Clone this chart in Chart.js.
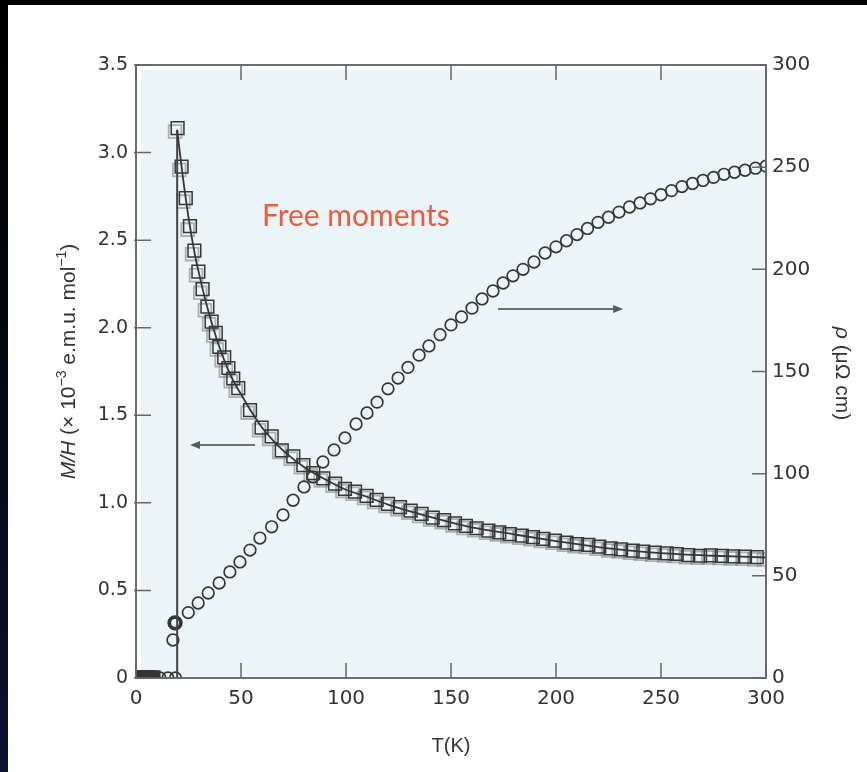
<!DOCTYPE html>
<html>
<head>
<meta charset="utf-8">
<script src="https://cdn.jsdelivr.net/npm/chart.js@4.4.1/dist/chart.umd.min.js"></script>
<style>
  html, body { margin: 0; padding: 0; width: 867px; height: 772px; overflow: hidden;
    background: linear-gradient(180deg, #000 0%, #03060f 40%, #0b1230 100%); }
  #panel { position: absolute; left: 8px; top: 5px; width: 859px; height: 767px; background: #fff; }
  canvas { display: block; }
</style>
</head>
<body>
<div id="panel"><canvas id="c" width="859" height="767"></canvas></div>
<script>
// Axis ticks
const T_TICKS = [0, 50, 100, 150, 200, 250, 300];
const MH_TICKS = [0, 0.5, 1, 1.5, 2, 2.5, 3, 3.5];
const MH_LABELS = ['0', '0.5', '1.0', '1.5', '2.0', '2.5', '3.0', '3.5'];
const RHO_TICKS = [0, 50, 100, 150, 200, 250, 300];

// Magnetic susceptibility M/H (x10^-3 e.m.u. mol^-1) vs T (K)
const susT = [0.5, 2, 3.5, 5, 6.5, 8,
  19.8, 21.7, 23.7, 25.7, 27.8, 29.7, 31.7, 34.0, 36.0, 38.0, 39.7, 42.0, 44.0, 46.3, 48.7,
  54.3, 59.8, 64.6, 69.4, 74.9, 79.7, 84.4, 89.2, 94.8, 99.5, 104.3, 109.8, 114.6, 120.0,
  125.7, 130.8, 136.0, 141.3, 146.7, 151.9, 157.1, 162.2, 167.8, 173.0, 178.0, 183.7, 189.0,
  194.0, 199.5, 205.0, 210.0, 215.4, 220.6, 226.0, 231.0, 236.5, 241.6, 247.0, 252.7, 257.5,
  263.0, 268.6, 273.7, 279.0, 284.4, 290.0, 295.6];
const susMH = [0, 0, 0, 0, 0, 0,
  3.14, 2.92, 2.74, 2.58, 2.44, 2.32, 2.22, 2.12, 2.035, 1.97, 1.89, 1.83, 1.77, 1.71, 1.655,
  1.53, 1.43, 1.38, 1.30, 1.265, 1.215, 1.17, 1.14, 1.11, 1.08, 1.064, 1.04, 1.017, 0.994,
  0.975, 0.955, 0.937, 0.916, 0.902, 0.883, 0.868, 0.855, 0.841, 0.832, 0.822, 0.813, 0.804,
  0.794, 0.784, 0.773, 0.765, 0.760, 0.750, 0.740, 0.735, 0.727, 0.721, 0.716, 0.712, 0.708,
  0.702, 0.698, 0.700, 0.697, 0.695, 0.693, 0.690];

// Second susceptibility run (lighter squares)
const sus2T = [18.6, 20.6, 22.6, 24.6, 26.7, 28.6, 30.6, 32.8, 34.8, 36.8, 38.5, 40.8, 42.8,
  45.1, 47.5, 53.1, 58.6, 63.4, 68.2, 73.7, 78.5, 83.2, 88.0, 93.6, 98.3, 103.1, 108.6, 113.4,
  118.8, 124.5, 129.6, 134.8, 140.1, 145.5, 150.7, 155.9, 161.0, 166.6, 171.8, 176.8, 182.5,
  187.8, 192.8, 198.3, 203.8, 208.8, 214.2, 219.4, 224.8, 229.8, 235.3, 240.4, 245.8, 251.5,
  256.3, 261.8, 267.4, 272.5, 277.8, 283.2, 288.8, 294.4, 299.0];
const sus2MH = [3.12, 2.90, 2.72, 2.56, 2.42, 2.30, 2.20, 2.10, 2.02, 1.955, 1.875, 1.815, 1.755,
  1.695, 1.64, 1.515, 1.415, 1.365, 1.29, 1.252, 1.203, 1.158, 1.128, 1.098, 1.068, 1.052, 1.028,
  1.005, 0.982, 0.963, 0.943, 0.925, 0.904, 0.890, 0.871, 0.856, 0.843, 0.829, 0.820, 0.810,
  0.801, 0.792, 0.782, 0.772, 0.761, 0.753, 0.748, 0.738, 0.728, 0.723, 0.715, 0.709, 0.704,
  0.700, 0.696, 0.690, 0.686, 0.688, 0.685, 0.683, 0.681, 0.678, 0.676];

// Curie-Weiss fit curve and the drop at the transition
const fitT = [19.6, 22, 25, 28, 30, 33, 36, 40, 45, 50, 55, 60, 65, 70, 80, 90, 100, 110, 120,
  140, 160, 180, 200, 225, 250, 275, 300];
const fitMH = [3.13, 2.89, 2.63, 2.42, 2.31, 2.16, 2.03, 1.88, 1.73, 1.62, 1.52, 1.43, 1.36, 1.30,
  1.205, 1.135, 1.075, 1.035, 0.99, 0.92, 0.86, 0.82, 0.782, 0.74, 0.713, 0.698, 0.688];
const onsetT = [19.6, 19.6];
const onsetMH = [0, 3.13];

// Resistivity rho (micro-ohm cm) vs T (K)
const rhoT = [0, 0.7, 1.4, 2.1, 2.8, 3.5, 4.2, 4.9, 5.6, 6.3, 7.0, 7.7, 11.4, 15.2, 18.8,
  17.6, 18.6,
  24.9, 29.6, 34.4, 39.6, 44.7, 49.5, 54.3, 59.0, 64.6, 70.0, 74.8, 80.0, 84.3, 89.0, 94.3,
  99.5, 104.8, 110.0, 114.8, 120.0, 124.8, 129.5, 134.8, 139.5, 144.8, 150.0, 155.0, 160.0,
  164.8, 170.0, 174.8, 179.5, 184.3, 189.5, 194.8, 200, 205, 210, 215, 220, 225, 230, 235,
  240, 245, 250, 255, 260, 265, 270, 275, 280, 285, 290, 295, 300];
const rhoVal = [0, 0, 0, 0, 0, 0, 0, 0, 0, 0, 0, 0, 0, 0, 0,
  18.6, 27,
  32, 36.7, 41.6, 46.5, 51.9, 56.8, 62.6, 68.5, 74, 79.8, 87, 93.5, 98.4, 105.7, 111.6,
  117.5, 124.3, 129.7, 135, 141.5, 146.8, 152, 158, 162.5, 168, 172.8, 176.7, 181,
  185.5, 189.4, 193.3, 196.8, 200, 203.6, 208, 211, 214, 217, 220, 223, 225.5, 228, 230.5,
  232.5, 234.5, 236.5, 238.5, 240.5, 242, 243.5, 245, 246.5, 247.5, 248.5, 249.5, 250.5];

const pts = (xs, ys) => xs.map((x, i) => ({ x, y: ys[i] }));

// Annotation placement, in data units
const NOTE = { text: 'Free moments', x: 60, y: 2.58 };
const ARROW_LEFT = { x0: 56.7, x1: 25.7, y: 1.33, axis: 'y' };
const ARROW_RIGHT = { x0: 172.4, x1: 232, y: 180.6, axis: 'y2' };

const INK = '#363636';
const FRAME = '#5e5e5e';

function drawArrow(ctx, xs, ys, a) {
  const px0 = xs.getPixelForValue(a.x0), px1 = xs.getPixelForValue(a.x1);
  const py = ys.getPixelForValue(a.y);
  const dir = Math.sign(px1 - px0);
  ctx.save();
  ctx.strokeStyle = '#6f6f6f';
  ctx.fillStyle = '#5a5a5a';
  ctx.lineWidth = 2;
  ctx.beginPath();
  ctx.moveTo(px0, py);
  ctx.lineTo(px1 - dir * 6, py);
  ctx.stroke();
  ctx.beginPath();
  ctx.moveTo(px1, py);
  ctx.lineTo(px1 - dir * 10, py - 4);
  ctx.lineTo(px1 - dir * 10, py + 4);
  ctx.closePath();
  ctx.fill();
  ctx.restore();
}

// Draw a list of text runs centred on the origin; runs may be italic or superscript
function drawRuns(ctx, runs, size, family) {
  const fontFor = r => `${r.italic ? 'italic ' : ''}${r.sup ? Math.round(size * 0.66) : size}px ${family}`;
  let total = 0;
  runs.forEach(r => { ctx.font = fontFor(r); r.w = ctx.measureText(r.t).width; total += r.w; });
  let x = -total / 2;
  const base = size * 0.36;
  ctx.textBaseline = 'alphabetic';
  ctx.textAlign = 'left';
  runs.forEach(r => {
    ctx.font = fontFor(r);
    ctx.fillText(r.t, x, r.sup ? base - size * 0.42 : base);
    x += r.w;
  });
}

const decor = {
  id: 'decor',
  beforeDraw(chart) {
    const { ctx, chartArea: a } = chart;
    ctx.save();
    ctx.fillStyle = '#ebf4f6';
    ctx.fillRect(a.left + 5, a.top + 5, a.right - a.left - 5, a.bottom - a.top - 5);
    ctx.restore();
  },
  afterDatasetsDraw(chart) {
    const { ctx, chartArea: a, scales } = chart;
    const { x, y, y2 } = scales;
    ctx.save();
    // frame
    ctx.strokeStyle = FRAME;
    ctx.lineWidth = 1.8;
    ctx.strokeRect(a.left, a.top, a.right - a.left, a.bottom - a.top);
    // inward tick marks
    ctx.lineWidth = 1.5;
    ctx.strokeStyle = '#666';
    ctx.beginPath();
    T_TICKS.forEach(v => {
      const px = x.getPixelForValue(v);
      ctx.moveTo(px, a.bottom); ctx.lineTo(px, a.bottom - 15);
      ctx.moveTo(px, a.top); ctx.lineTo(px, a.top + 15);
    });
    MH_TICKS.forEach(v => {
      const py = y.getPixelForValue(v);
      ctx.moveTo(a.left - 2, py); ctx.lineTo(a.left + 15, py);
    });
    RHO_TICKS.forEach(v => {
      const py = y2.getPixelForValue(v);
      ctx.moveTo(a.right, py); ctx.lineTo(a.right - 14, py);
    });
    ctx.stroke();
    ctx.restore();

    drawArrow(ctx, x, scales[ARROW_LEFT.axis], ARROW_LEFT);
    drawArrow(ctx, x, scales[ARROW_RIGHT.axis], ARROW_RIGHT);

    // annotation label
    ctx.save();
    ctx.fillStyle = '#ec5a3f';
    ctx.font = '30px Lato';
    ctx.textAlign = 'left';
    ctx.textBaseline = 'alphabetic';
    ctx.fillText(NOTE.text, x.getPixelForValue(NOTE.x), y.getPixelForValue(NOTE.y));
    ctx.restore();
  },
  afterDraw(chart) {
    const { ctx, chartArea: a } = chart;
    const fam = '"Liberation Sans", Arial, sans-serif';
    ctx.save();
    ctx.fillStyle = '#333';
    // left axis title
    ctx.save();
    ctx.translate(59, (a.top + a.bottom) / 2 - 10);
    ctx.rotate(-Math.PI / 2);
    drawRuns(ctx, [
      { t: 'M/H', italic: true },
      { t: ' (\u00d7 10' },
      { t: '\u22123', sup: true },
      { t: ' e.m.u. mol' },
      { t: '\u22121', sup: true },
      { t: ')' }
    ], 21, fam);
    ctx.restore();
    // right axis title
    ctx.save();
    ctx.translate(a.right + 78, (a.top + a.bottom) / 2 + 2);
    ctx.rotate(Math.PI / 2);
    drawRuns(ctx, [
      { t: '\u03c1', italic: true },
      { t: ' (\u03bc\u03a9 cm)' }
    ], 21, fam);
    ctx.restore();
    // bottom axis title
    ctx.save();
    ctx.translate((a.left + a.right) / 2, 740);
    drawRuns(ctx, [{ t: 'T(K)' }], 20, fam);
    ctx.restore();
    ctx.restore();
  }
};

const tickFont = { family: 'DejaVu Sans', size: 19 };

new Chart(document.getElementById('c'), {
  type: 'scatter',
  data: {
    datasets: [
      {
        label: 'fit',
        data: pts(fitT, fitMH),
        yAxisID: 'y',
        showLine: true,
        pointRadius: 0,
        borderColor: INK,
        borderWidth: 1.8,
        cubicInterpolationMode: 'monotone'
      },
      {
        label: 'onset',
        data: pts(onsetT, onsetMH),
        yAxisID: 'y',
        showLine: true,
        pointRadius: 0,
        borderColor: '#444',
        borderWidth: 2
      },
      {
        label: 'rho',
        data: pts(rhoT, rhoVal),
        yAxisID: 'y2',
        pointStyle: 'circle',
        pointRadius: 5.8,
        backgroundColor: 'rgba(0,0,0,0)',
        borderColor: '#363636',
        borderWidth: c => {
          const r = c.raw;
          if (!r) return 1.7;
          if (r.x < 20 && r.y > 22) return 3.8;
          if (r.y === 0 && r.x < 9) return 2.8;
          return 1.7;
        }
      },
      {
        label: 'M/H',
        data: pts(susT, susMH),
        yAxisID: 'y',
        pointStyle: 'rect',
        pointRadius: 9,
        backgroundColor: 'rgba(0,0,0,0)',
        borderColor: INK,
        borderWidth: c => (c.raw && c.raw.y === 0 ? 2.8 : 1.5)
      },
      {
        label: 'M/H 2',
        data: pts(sus2T, sus2MH),
        yAxisID: 'y',
        pointStyle: 'rect',
        pointRadius: 9,
        backgroundColor: 'rgba(0,0,0,0)',
        borderColor: 'rgba(130,130,130,0.6)',
        borderWidth: 1.8
      }
    ]
  },
  options: {
    responsive: false,
    animation: false,
    devicePixelRatio: 1,
    layout: { padding: { top: 60, left: 0, right: 0, bottom: 0 } },
    plugins: { legend: { display: false }, tooltip: { enabled: false } },
    scales: {
      x: {
        type: 'linear', position: 'bottom', min: 0, max: 300,
        afterFit(s) { s.height = 94; },
        afterBuildTicks(s) { s.ticks = T_TICKS.map(v => ({ value: v })); },
        grid: { display: false, drawTicks: false },
        border: { display: false },
        ticks: { padding: 9, font: { family: 'DejaVu Sans', size: 20 }, color: '#333',
          maxRotation: 0, autoSkip: false, callback: v => String(v) }
      },
      y: {
        type: 'linear', position: 'left', min: 0, max: 3.5,
        afterFit(s) { s.width = 128; },
        afterBuildTicks(s) { s.ticks = MH_TICKS.map(v => ({ value: v })); },
        grid: { display: false, drawTicks: false },
        border: { display: false },
        ticks: { padding: 8, font: tickFont, color: '#333', autoSkip: false,
          callback: (v, i) => MH_LABELS[i] }
      },
      y2: {
        type: 'linear', position: 'right', min: 0, max: 300,
        afterFit(s) { s.width = 101; },
        afterBuildTicks(s) { s.ticks = RHO_TICKS.map(v => ({ value: v })); },
        grid: { display: false, drawTicks: false },
        border: { display: false },
        ticks: { padding: 6, font: { family: 'DejaVu Sans', size: 20 }, color: '#333',
          autoSkip: false, callback: v => String(v) }
      }
    }
  },
  plugins: [decor]
});
</script>
</body>
</html>
